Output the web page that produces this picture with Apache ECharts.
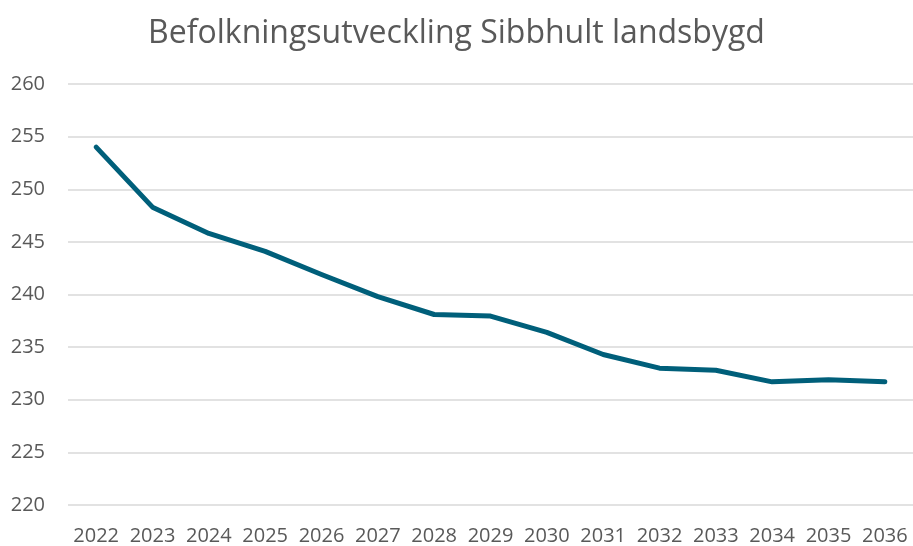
<!DOCTYPE html>
<html>
<head>
<meta charset="utf-8">
<script src="https://cdn.jsdelivr.net/npm/echarts@6/dist/echarts.min.js"></script>
<style>
  html, body { margin: 0; padding: 0; background: #fff; }
  #chart { width: 913px; height: 546px; }
</style>
</head>
<body>
<div id="chart"></div>
<script>
var years = ['2022', '2023', '2024', '2025', '2026', '2027', '2028', '2029',
             '2030', '2031', '2032', '2033', '2034', '2035', '2036'];
var population = [254.0, 248.3, 245.8, 244.1, 241.9, 239.8, 238.1, 237.95,
                  236.4, 234.3, 233.0, 232.8, 231.7, 231.9, 231.7];
var yMin = 220, yMax = 260, yStep = 5;

var chart = echarts.init(document.getElementById('chart'));

var option = {
  animation: false,
  title: {
    text: 'Befolkningsutveckling Sibbhult landsbygd',
    left: 'center',
    top: 13,
    textStyle: {
      fontFamily: 'Open Sans',
      fontSize: 32,
      fontWeight: 'normal',
      color: '#595959'
    }
  },
  grid: {
    left: 68,
    right: -2,
    top: 84,
    bottom: 36
  },
  xAxis: {
    type: 'category',
    data: years,
    boundaryGap: true,
    axisLine: { show: false },
    axisTick: { show: false },
    axisLabel: {
      interval: 0,
      margin: 21,
      fontFamily: 'Open Sans',
      fontSize: 20,
      color: '#595959'
    }
  },
  yAxis: {
    type: 'value',
    min: yMin,
    max: yMax,
    interval: yStep,
    axisLine: { show: false },
    axisTick: { show: false },
    splitLine: { lineStyle: { color: '#d9d9d9', width: 1.5 } },
    axisLabel: {
      margin: 23,
      fontFamily: 'Open Sans',
      fontSize: 20,
      color: '#595959'
    }
  },
  series: [
    {
      type: 'line',
      data: population,
      symbol: 'none',
      lineStyle: { color: '#005f7a', width: 5, cap: 'round', join: 'round' }
    }
  ]
};

chart.setOption(option);
</script>
</body>
</html>
